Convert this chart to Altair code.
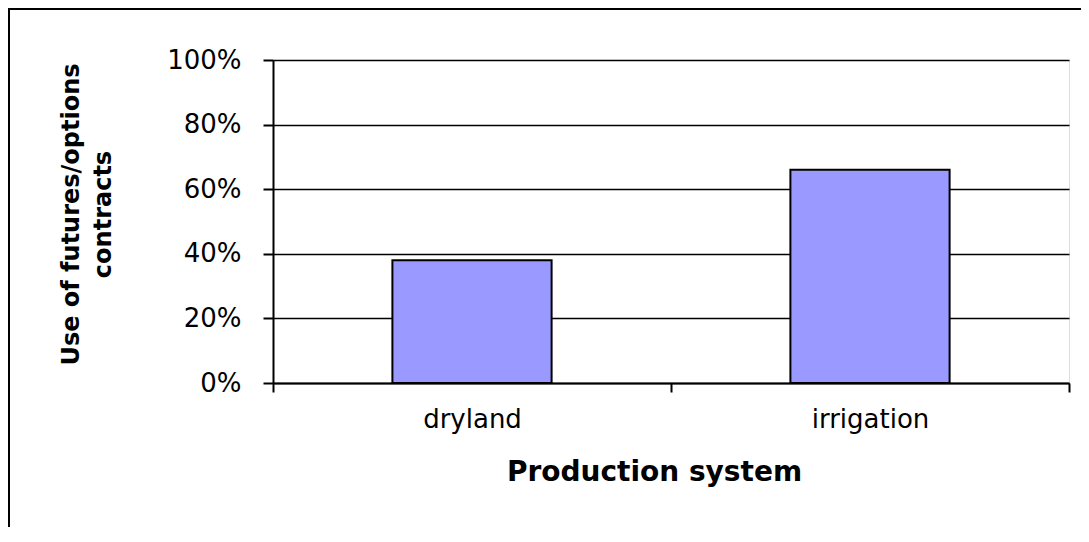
import altair as alt
import pandas as pd

categories = ["dryland", "irrigation"]
values = [0.38, 0.66]
y_ticks = [0, 0.2, 0.4, 0.6, 0.8, 1.0]

df = pd.DataFrame({"system": categories, "share": values})

W, H = 796, 323
PL, PT, PR, PB = 265, 52, 12, 144
FONT = "DejaVu Sans"

bars = alt.Chart(df).mark_bar(
    width=alt.RelativeBandSize(0.4),
    color="#9999FF",
    stroke="black",
    strokeWidth=2,
).encode(
    x=alt.X(
        "system:N",
        sort=categories,
        scale=alt.Scale(paddingInner=0, paddingOuter=0),
        axis=alt.Axis(
            title="Production system",
            labelAngle=0,
            labelFont=FONT,
            labelFontSize=26,
            labelColor="black",
            labelPadding=14,
            tickBand="extent",
            tickSize=9,
            tickColor="black",
            tickWidth=2,
            domainColor="black",
            domainWidth=2,
            titleFont=FONT,
            titleFontSize=28,
            titleFontWeight="bold",
            titleColor="black",
            titleX=381,
            titleY=89,
            titleBaseline="middle",
            titleAlign="center",
            grid=False,
        ),
    ),
    y=alt.Y(
        "share:Q",
        scale=alt.Scale(domain=[0, 1]),
        axis=alt.Axis(
            title=["Use of futures/options", "contracts"],
            values=y_ticks,
            format=".0%",
            labelFont=FONT,
            labelFontSize=26,
            labelColor="black",
            labelPadding=22,
            tickSize=10,
            tickColor="black",
            tickWidth=2,
            domainColor="black",
            domainWidth=2,
            grid=True,
            gridColor="black",
            gridWidth=1.5,
            gridOpacity=1,
            titleFont=FONT,
            titleFontSize=24,
            titleFontWeight="bold",
            titleColor="black",
            titleAngle=270,
            titleX=-202,
            titleY=154,
            titleAlign="center",
            titleBaseline="middle",
            titleLineHeight=32,
        ),
    ),
)

frame_src = alt.Data(values=[{"k": 1}])
left_border = alt.Chart(frame_src).mark_rule(color="black", strokeWidth=2).encode(
    x=alt.value(-264), y=alt.value(-52), y2=alt.value(H + PB)
)
top_border = alt.Chart(frame_src).mark_rule(color="black", strokeWidth=2).encode(
    x=alt.value(-265), x2=alt.value(W + PR), y=alt.value(-51)
)

chart = alt.layer(bars, left_border, top_border).properties(
    width=W,
    height=H,
    padding={"left": PL, "top": PT, "right": PR, "bottom": PB},
    autosize=alt.AutoSizeParams(type="none"),
).configure_view(stroke="black", strokeWidth=2).configure(background="white")

chart.save("out.html", embed_options={"renderer": "svg", "actions": False})
